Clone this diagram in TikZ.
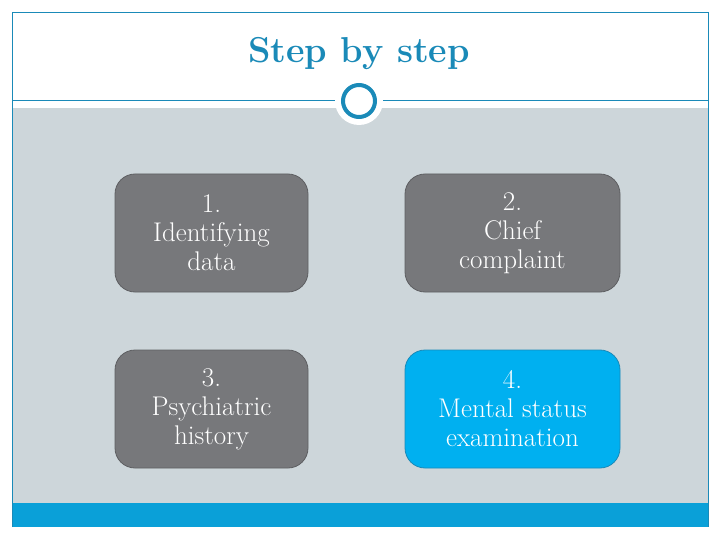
\documentclass[tikz,border=0pt]{standalone}
\usepackage{tikz}
\usetikzlibrary{positioning}
\definecolor{teal}{HTML}{1A8AB8}
\definecolor{band}{HTML}{CDD6DA}
\definecolor{barblue}{HTML}{0AA0D8}
\definecolor{boxgray}{HTML}{77787B}
\definecolor{boxedge}{HTML}{5E5F62}
\definecolor{boxblue}{HTML}{00B0F0}

\begin{document}
\begin{tikzpicture}[x=1pt,y=-1pt,
    stepbox/.style={draw=boxedge,fill=boxgray,rounded corners=20pt,line width=0.8pt,
      minimum width=193pt,minimum height=118pt,text=white,align=center,
      font=\fontsize{27}{29}\selectfont},
    stepblue/.style={stepbox,draw=teal,fill=boxblue}]
  \useasboundingbox[fill=white] (0,0) rectangle (720,540);
  % slide frame
  \fill[band] (12,108) rectangle (708,503);
  \fill[barblue] (12,503) rectangle (708,527);
  \draw[teal,line width=0.6pt] (12,527) -- (12,12) -- (708,12) -- (708,527);
  \draw[teal,line width=0.8pt] (12,100) -- (708,100);
  \node[text=teal,font=\fontsize{36}{40}\selectfont\bfseries] (title) at (359,54) {Step by step};
  \fill[white] (359,101) circle (24);
  \draw[teal,line width=4pt] (359,101) circle (16);
  % the four steps
  \node[stepbox,minimum width=193pt] (s1) at (211.5,233) {1.\\Identifying\\data};
  \node[stepbox,minimum width=215pt] (s2) at (512.5,233) {2.\\Chief\\complaint};
  \node[stepbox,minimum width=193pt] (s3) at (211.5,409) {3.\\Psychiatric\\history};
  \node[stepblue,minimum width=215pt] (s4) at (512.5,409) {4.\\Mental status\\examination};
\end{tikzpicture}
\end{document}
